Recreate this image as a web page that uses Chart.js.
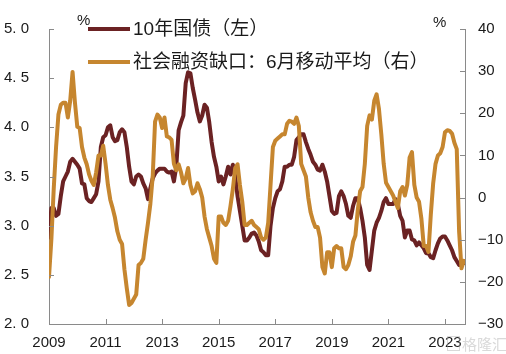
<!DOCTYPE html>
<html>
<head>
<meta charset="utf-8">
<script src="https://cdn.jsdelivr.net/npm/chart.js@4.4.0/dist/chart.umd.min.js"></script>
<style>
  html, body { margin: 0; padding: 0; background: #fff; }
  #wrap { width: 506px; height: 354px; }
</style>
</head>
<body>
<div id="wrap"><canvas id="chart" width="506" height="354"></canvas></div>
<script>
// monthly data, Jan 2009 .. Sep 2023
const startYear = 2009;
const yearTicks = [2009, 2011, 2013, 2015, 2017, 2019, 2021, 2023];

// 10Y government bond yield, % (left axis)
const bondYield = [
  2.88, 3.18, 3.18, 3.1, 3.12, 3.3, 3.45, 3.5, 3.55, 3.65, 3.68, 3.65,
  3.62, 3.58, 3.43, 3.42, 3.28, 3.25, 3.24, 3.28, 3.32, 3.45, 3.8, 3.9,
  3.92, 4.0, 4.02, 3.9, 3.86, 3.87, 3.95, 3.98, 3.95, 3.8, 3.6, 3.45,
  3.42, 3.5, 3.52, 3.5, 3.43, 3.38, 3.27, 3.38, 3.48, 3.53, 3.56, 3.58,
  3.58, 3.58, 3.55, 3.54, 3.55, 3.45, 3.6, 3.97, 4.05, 4.12, 4.45, 4.56,
  4.55, 4.4, 4.28, 4.15, 4.06, 4.12, 4.23, 4.2, 4.05, 3.85, 3.7, 3.6,
  3.45, 3.5, 3.42, 3.5, 3.6, 3.52, 3.62, 3.5, 3.3, 3.15, 3.0, 2.85,
  2.85, 2.88, 2.92, 2.93, 2.9, 2.84, 2.75, 2.73, 2.7, 2.7, 3.0, 3.18,
  3.28, 3.35, 3.37, 3.45, 3.6, 3.6, 3.62, 3.62, 3.7, 3.87, 3.9, 3.93,
  3.93, 3.85, 3.78, 3.72, 3.65, 3.62, 3.57, 3.56, 3.62, 3.55, 3.45, 3.3,
  3.15, 3.12, 3.13, 3.3, 3.35, 3.3, 3.22, 3.1, 3.08, 3.2, 3.28, 3.28,
  3.18, 3.05, 2.88, 2.6, 2.55, 2.75, 2.95, 3.03, 3.08, 3.15, 3.24, 3.28,
  3.22, 3.22, 3.22, 3.27, 3.22, 3.1, 3.05, 2.88, 2.95, 2.95, 2.86, 2.85,
  2.8, 2.83, 2.8, 2.77, 2.72, 2.72, 2.68, 2.67, 2.75, 2.82, 2.87, 2.89,
  2.89, 2.85, 2.8, 2.75, 2.68, 2.64, 2.6, 2.63, 2.62
];

// social financing gap, 6M moving average, % (right axis)
const tsfGap = [
  -18.8, -10, 2, 12, 19.7, 22, 22.5, 22.5, 19, 23, 29.8, 22.6,
  16.8, 16.5, 12, 9.5, 7.9, 5.5, 4, 3, 6, 10, 10, 12.3,
  8, 3, -0.5, -2.5, -4.8, -8, -10, -11, -17, -21.5, -25.5, -25,
  -24, -23, -16, -15.5, -14.5, -10, -6, -1.5, 5, 18, 19.7, 19,
  16.5, 19, 14.5, 14.3, 13.7, 8, 6.5, 7.9, 6, 3.4, 4.5, 7,
  3, 1, 1.5, 3.4, 2, 0, -4.5, -7.5, -9.5, -11.5, -14.5, -15.5,
  -4.5, -4.5, -6, -6.5, -5.5, -2, 2, 7, 7.9, 3, -1, -6.5,
  -6.5, -6, -5.5, -6.5, -7, -7.5, -9.5, -10, -9.5, -6, 3, 12,
  13.5, 14, 14.5, 15, 15, 17.5, 18.2, 18, 17.5, 19, 17, 8,
  6.5, 5, 0, -3.5, -5.5, -7, -7, -9.5, -16.5, -18, -13, -13,
  -16.5, -12, -11.5, -12, -12, -16.5, -17, -16, -14, -10.5, -9, -3,
  1.5, 2.5, 8, 17, 19.5, 18.5, 23, 24.5, 21, 15, 8, 3.5,
  2.5, 1.5, 0.5, -1, -2.5, 1.5, 2.5, 0.5, 3, 9.5, 10.8, 3,
  0, -1, -5, -11.5, -11.5, -12.9, -4, 3.4, 8, 10, 10.5, 12,
  15.5, 16, 15.8, 15.2, 13, 11.5, -8, -16.8, -15
];

const legendLabels = ["10年国债（左）", "社会融资缺口：6月移动平均（右）"];
const brown = "#6b2223";
const orange = "#c6862f";
const axisGrey = "#8a8a8a";
const textColor = "#1a1a1a";
const fontFamily = "'Liberation Sans', Arial, 'Noto Sans CJK SC', sans-serif";

function toPoints(arr) {
  return arr.map((v, i) => ({ x: startYear + i / 12, y: v }));
}

// inward tick marks, legend, unit labels
const decorPlugin = {
  id: "decor",
  beforeDatasetsDraw(chart) {
    const ctx = chart.ctx;
    ctx.save();
    const rows = [
      { y: 29, color: brown, text: legendLabels[0] },
      { y: 62, color: orange, text: legendLabels[1] }
    ];
    rows.forEach(r => {
      ctx.strokeStyle = r.color;
      ctx.lineWidth = 4;
      ctx.beginPath();
      ctx.moveTo(88, r.y);
      ctx.lineTo(130, r.y);
      ctx.stroke();
      ctx.fillStyle = textColor;
      ctx.font = "19px " + fontFamily;
      ctx.textBaseline = "middle";
      ctx.textAlign = "left";
      ctx.fillText(r.text, 133, r.y + 1);
    });
    ctx.font = "15px " + fontFamily;
    ctx.fillText("%", 77, 21);
    ctx.fillText("%", 433, 23);
    ctx.restore();
  },
  afterDraw(chart) {
    const ctx = chart.ctx;
    const a = chart.chartArea;
    const { x, y, y2 } = chart.scales;
    ctx.save();
    ctx.strokeStyle = axisGrey;
    ctx.lineWidth = 1;
    ctx.beginPath();
    yearTicks.forEach(v => {
      const px = Math.round(x.getPixelForValue(v)) + 0.5;
      ctx.moveTo(px, a.bottom);
      ctx.lineTo(px, a.bottom - 5);
    });
    y.ticks.forEach(t => {
      const py = Math.round(y.getPixelForValue(t.value)) + 0.5;
      ctx.moveTo(a.left, py);
      ctx.lineTo(a.left + 5, py);
    });
    y2.ticks.forEach(t => {
      const py = Math.round(y2.getPixelForValue(t.value)) + 0.5;
      ctx.moveTo(a.right, py);
      ctx.lineTo(a.right - 5, py);
    });
    ctx.stroke();
    // faint watermark
    ctx.fillStyle = "rgba(170,170,170,0.45)";
    ctx.font = "15px 'Noto Sans CJK SC', sans-serif";
    ctx.textAlign = "left";
    ctx.textBaseline = "middle";
    ctx.fillText("格隆汇", 462, 344);
    ctx.strokeStyle = "rgba(170,170,170,0.45)";
    ctx.strokeRect(447.5, 336.5, 12, 14);
    ctx.restore();
  }
};

const tickFont = { family: fontFamily, size: 15 };

new Chart(document.getElementById("chart"), {
  type: "line",
  data: {
    datasets: [
      {
        label: legendLabels[0],
        data: toPoints(bondYield),
        yAxisID: "y",
        borderColor: brown,
        borderWidth: 4,
        pointRadius: 0,
        tension: 0,
        order: 1
      },
      {
        label: legendLabels[1],
        data: toPoints(tsfGap),
        yAxisID: "y2",
        borderColor: orange,
        borderWidth: 4,
        pointRadius: 0,
        tension: 0,
        order: 0
      }
    ]
  },
  options: {
    responsive: false,
    animation: false,
    devicePixelRatio: 1,
    layout: { padding: { top: 8, left: 0, right: 0, bottom: 0 } },
    plugins: { legend: { display: false }, tooltip: { enabled: false } },
    elements: { line: { borderJoinStyle: "round", borderCapStyle: "round" } },
    scales: {
      x: {
        type: "linear",
        min: startYear,
        max: startYear + 176.5 / 12,
        afterBuildTicks: s => { s.ticks = yearTicks.map(v => ({ value: v })); },
        afterFit: s => { s.height = 30; },
        grid: { display: false, drawTicks: false },
        border: { color: axisGrey },
        ticks: {
          padding: 10,
          color: textColor,
          font: tickFont,
          maxRotation: 0,
          autoSkip: false,
          callback: v => String(v)
        }
      },
      y: {
        position: "left",
        min: 2,
        max: 5,
        afterFit: s => { s.width = 49; },
        grid: { display: false, drawTicks: false },
        border: { color: axisGrey },
        ticks: {
          stepSize: 0.5,
          padding: 20,
          color: textColor,
          font: tickFont,
          callback: v => v.toFixed(1).replace(".", ". ")
        }
      },
      y2: {
        position: "right",
        min: -30,
        max: 40,
        afterFit: s => { s.width = 41; },
        grid: { display: false, drawTicks: false },
        border: { color: axisGrey },
        ticks: {
          stepSize: 10,
          padding: 13,
          color: textColor,
          font: tickFont,
          callback: v => (v < 0 ? "\u2212" + Math.abs(v) : String(v))
        }
      }
    }
  },
  plugins: [decorPlugin]
});
</script>
</body>
</html>
